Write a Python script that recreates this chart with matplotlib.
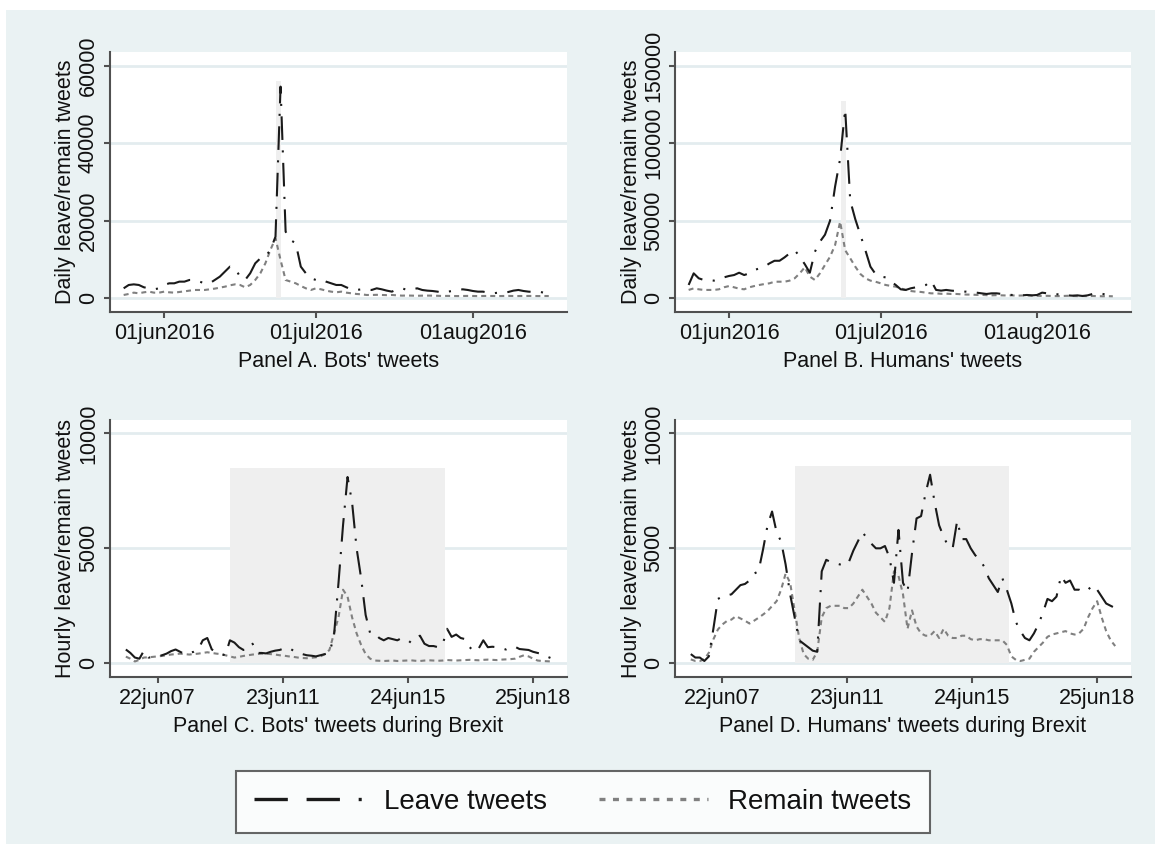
import numpy as np
import pandas as pd
import matplotlib
matplotlib.use("Agg")
import matplotlib.pyplot as plt
from matplotlib.lines import Line2D
from matplotlib.patches import Rectangle

plt.rcParams['font.family'] = ['Liberation Sans', 'DejaVu Sans']
plt.rcParams['lines.scale_dashes'] = False

# daily series, 24 May - 16 Aug 2016
days = pd.date_range('2016-05-24', '2016-08-16', freq='D')

bots_leave = [2580, 3440, 3600, 3440, 2840, 2580, 2320, 2580, 3440, 3870,
              3870, 4300, 4300, 4730, 4730, 4300, 3870, 3870, 4730, 5590,
              6880, 8170, 7740, 5590, 4730, 6450, 9030, 10300, 10750, 12470,
              15900, 54600, 17200, 15000, 14200, 8170, 6450, 5160, 4730, 4900,
              4300, 3870, 3440, 3440, 2840, 2320, 2150, 2320, 2320, 2150,
              2580, 2320, 1980, 1720, 2320, 2580, 2150, 2320, 2580, 2150,
              1980, 1890, 1720, 1460, 1720, 1890, 2150, 2320, 2150, 1890,
              1720, 1720, 1460, 1290, 1460, 1460, 1630, 1980, 2150, 1890,
              1720, 1630, 1720, 1460, 1290]
bots_remain = [860, 1120, 1460, 1290, 1550, 1720, 1460, 1460, 1720, 1550,
               1460, 1630, 1800, 1980, 2150, 2150, 2150, 2320, 2500, 2750,
               3000, 3350, 3600, 3440, 2840, 3440, 4730, 6450, 9030, 12500,
               15500, 9900, 4730, 4300, 3870, 3180, 2580, 2150, 2580, 2320,
               1980, 1720, 1550, 1720, 1460, 1290, 1120, 1030, 860, 860,
               900, 860, 820, 860, 770, 690, 720, 690, 650, 690,
               700, 690, 650, 600, 620, 600, 580, 600, 620, 600,
               580, 600, 610, 600, 580, 600, 620, 600, 590, 600,
               610, 600, 580, 600, 590]
hum_leave = [8600, 16100, 12900, 11800, 11800, 11400, 12200, 13500, 14400, 15000,
             16500, 15000, 16100, 18200, 19300, 20400, 22500, 24200, 24200, 26400,
             29000, 31100, 26800, 22000, 16500, 30000, 36500, 41000, 50000, 72000,
             90000, 122000, 63000, 51000, 41000, 31000, 20400, 15700, 14000, 13500,
             11000, 8600, 5800, 5400, 6450, 7100, 7500, 8600, 11400, 5400,
             4950, 5400, 4950, 4700, 4300, 4300, 4100, 3650, 3200, 2800,
             3200, 3200, 2800, 2600, 2150, 2150, 1900, 2150, 1900, 2150,
             3650, 3200, 2800, 2600, 2150, 1900, 1700, 1900, 1500, 1900,
             2800, 3200, 2800, 2150, 1700]
hum_remain = [5400, 6400, 5800, 5400, 5400, 5400, 5800, 7100, 7900, 7100,
              6200, 5800, 7100, 7900, 8600, 9200, 9660, 10700, 10700, 10700,
              11400, 12900, 16100, 20000, 14000, 11800, 16100, 21500, 26800, 34300,
              49400, 31000, 25800, 20400, 15700, 12900, 11400, 10700, 9700, 8600,
              8000, 7500, 6400, 5400, 4700, 4300, 4100, 3650, 3200, 3200,
              2900, 3000, 2800, 2800, 2600, 2400, 2400, 2200, 2200, 2000,
              1900, 2000, 1900, 1800, 1900, 1700, 1800, 1900, 1700, 1600,
              1500, 1600, 1500, 1400, 1500, 1600, 1500, 1400, 1500, 1400,
              1500, 1400, 1300, 1400, 1300]

# hourly series, 22 Jun 00h - 25 Jun 22h
hours = pd.date_range('2016-06-22 00:00', periods=95, freq='h')

bots_leave_h = [600, 450, 250, 200, 550, 250, 260, 300, 350, 420,
                530, 600, 500, 400, 450, 500, 600, 1000, 1100, 600,
                500, 400, 350, 1000, 900, 700, 580, 600, 850, 450,
                450, 430, 500, 550, 580, 650, 680, 550, 450, 400,
                350, 330, 300, 350, 400, 450, 1200, 3500, 6000, 8100,
                7000, 5000, 3700, 2100, 1300, 1300, 1100, 1000, 1100, 1050,
                1000, 1100, 1050, 900, 1100, 1200, 850, 750, 750, 700,
                800, 1500, 1150, 1250, 1100, 1050, 700, 500, 650, 1000,
                700, 720, 700, 650, 600, 700, 720, 620, 600, 580,
                500, 450, 400, 300, 220]
bots_remain_h = [290, 200, 80, 150, 250, 260, 280, 300, 320, 350,
                 380, 400, 420, 400, 380, 400, 420, 450, 480, 450,
                 420, 400, 350, 300, 250, 280, 320, 350, 380, 400,
                 420, 420, 400, 380, 350, 330, 300, 280, 250, 230,
                 220, 240, 260, 300, 400, 580, 1300, 2000, 3200, 2900,
                 2000, 1300, 800, 400, 200, 120, 110, 100, 110, 120,
                 100, 110, 120, 130, 110, 100, 120, 130, 120, 110,
                 120, 140, 130, 120, 130, 140, 150, 140, 130, 150,
                 160, 150, 140, 160, 170, 180, 200, 280, 350, 300,
                 200, 120, 100, 90, 80]
hum_leave_h = [400, 250, 250, 100, 300, 1500, 2800, 2900, 2950, 3000,
               3200, 3400, 3450, 3600, 3900, 4000, 4950, 6000, 6600, 5700,
               5300, 4300, 3000, 2000, 1000, 850, 700, 550, 500, 4000,
               4500, 4400, 4350, 4300, 4250, 4400, 4900, 5300, 5700, 5450,
               5200, 5000, 5000, 5100, 4600, 3500, 5800, 3500, 3100, 4800,
               6300, 6400, 7400, 8200, 7000, 6000, 5500, 5100, 5000, 6200,
               5400, 5400, 5000, 4700, 4500, 4200, 3700, 3400, 3100, 3700,
               3200, 2600, 1800, 1400, 1100, 1000, 1300, 1700, 2200, 2800,
               2700, 2900, 3800, 3500, 3600, 3200, 3200, 3100, 3200, 3400,
               3200, 2900, 2600, 2500, 2400]
hum_remain_h = [170, 100, 100, 170, 460, 1040, 1470, 1690, 1840, 1900,
                2050, 1950, 1850, 1730, 1850, 1980, 2120, 2270, 2490, 2700,
                3200, 3900, 3500, 2300, 1100, 400, 200, 150, 500, 2000,
                2400, 2500, 2500, 2500, 2400, 2400, 2600, 2900, 3200, 2900,
                2600, 2200, 2000, 1800, 2400, 4000, 3800, 3000, 1500, 2300,
                1600, 1300, 1200, 1200, 1400, 1100, 1500, 1200, 1100, 1100,
                1200, 1200, 1050, 1000, 1050, 1050, 1000, 1000, 1000, 1000,
                800, 300, 150, 100, 150, 200, 500, 700, 900, 1150,
                1250, 1300, 1350, 1400, 1300, 1250, 1300, 1500, 2000, 2400,
                2700, 2000, 1400, 1000, 750]

# shaded referendum windows
day_band = (pd.Timestamp('2016-06-23 02:00'), pd.Timestamp('2016-06-24 04:00'))
day_band_top = [56000, 127000]
hour_band = (pd.Timestamp('2016-06-22 23:00'), pd.Timestamp('2016-06-24 22:30'))
hour_band_top = [8500, 8600]

bg = '#eaf2f3'
grid_c = '#e3ecef'
leave_c = '#1a1a1a'
remain_c = '#808080'
band_c = '#efefef'
txt_c = '#111111'

leave_dash = (0, (17, 7.5, 1.5, 7.5))
remain_dash = (0, (3.6, 2.9))

fig = plt.figure(figsize=(11.61, 8.5), dpi=100, facecolor='white')
fig.patches.append(Rectangle((6 / 1161, 6 / 850), 1149 / 1161, 834 / 850,
                             transform=fig.transFigure, facecolor=bg,
                             edgecolor='none', zorder=-10))

W, H = 1161, 850


def make_ax(l, r, t, b):
    return fig.add_axes([l / W, 1 - b / H, (r - l) / W, (b - t) / H])


axA = make_ax(110, 567, 52, 312)
axB = make_ax(675, 1131, 52, 312)
axC = make_ax(110, 567, 420, 677)
axD = make_ax(675, 1131, 420, 677)

jun1 = pd.Timestamp('2016-06-01')
d_ticks = [jun1, pd.Timestamp('2016-07-01'), pd.Timestamp('2016-08-01')]
d_labels = ['01jun2016', '01jul2016', '01aug2016']
h0 = pd.Timestamp('2016-06-22 00:00')
h_ticks = [h0 + pd.Timedelta(hours=x) for x in [7, 34.67, 62.33, 90]]
h_labels = ['22jun07', '23jun11', '24jun15', '25jun18']


def style(ax, yticks, ylim, xlim, xt, xl, ylabel, xlabel):
    ax.set_facecolor('white')
    for s in ['top', 'right']:
        ax.spines[s].set_visible(False)
    for s in ['left', 'bottom']:
        ax.spines[s].set_color('#505050')
        ax.spines[s].set_linewidth(1.5)
    ax.set_ylim(ylim)
    ax.set_xlim(xlim)
    ax.set_yticks(yticks)
    ax.set_yticklabels([str(v) for v in yticks], rotation=90, va='center')
    ax.set_xticks(xt)
    ax.set_xticklabels(xl)
    ax.tick_params(axis='both', length=4, width=1.5, color='#505050',
                   labelsize=15.5, labelcolor=txt_c, pad=4)
    ax.grid(axis='y', color=grid_c, linewidth=2, zorder=0)
    ax.set_axisbelow(True)
    ax.set_ylabel(ylabel, fontsize=15.5, color=txt_c, labelpad=1)
    ax.set_xlabel(xlabel, fontsize=15.5, color=txt_c, labelpad=5)


def draw(ax, x, leave, remain, band, top):
    ax.fill_between(list(band), [0, 0], [top, top], color=band_c, lw=0, zorder=1)
    ax.plot(x, remain, color=remain_c, lw=1.5, linestyle=remain_dash, zorder=2)
    ax.plot(x, leave, color=leave_c, lw=1.5, linestyle=leave_dash, zorder=3)


dxlim = (jun1 - pd.Timedelta(days=10.7), jun1 + pd.Timedelta(days=79.6))
hxlim = (h0 - pd.Timedelta(hours=3.5), h0 + pd.Timedelta(hours=97.5))

draw(axA, days, bots_leave, bots_remain, day_band, day_band_top[0])
style(axA, [0, 20000, 40000, 60000], (-3530, 63530), dxlim, d_ticks, d_labels,
      'Daily leave/remain tweets', "Panel A. Bots' tweets")

draw(axB, days, hum_leave, hum_remain, day_band, day_band_top[1])
style(axB, [0, 50000, 100000, 150000], (-8830, 158800), dxlim, d_ticks, d_labels,
      'Daily leave/remain tweets', "Panel B. Humans' tweets")

draw(axC, hours, bots_leave_h, bots_remain_h, hour_band, hour_band_top[0])
style(axC, [0, 5000, 10000], (-596, 10580), hxlim, h_ticks, h_labels,
      'Hourly leave/remain tweets', "Panel C. Bots' tweets during Brexit")

draw(axD, hours, hum_leave_h, hum_remain_h, hour_band, hour_band_top[1])
style(axD, [0, 5000, 10000], (-596, 10580), hxlim, h_ticks, h_labels,
      'Hourly leave/remain tweets', "Panel D. Humans' tweets during Brexit")

handles = [Line2D([], [], color=leave_c, lw=2.4,
                  linestyle=(0, (24, 13.5, 24, 13.5, 2.2, 13.5))),
           Line2D([], [], color=remain_c, lw=2.4, linestyle=(0, (4.3, 5.4)))]
leg = fig.legend(handles, ['Leave tweets', 'Remain tweets'], ncol=2,
                 loc='center', bbox_to_anchor=(583 / W, 1 - 802 / H),
                 fontsize=20, handlelength=3.9, handletextpad=0.75,
                 columnspacing=1.9, borderpad=0.65, frameon=True, fancybox=False)
leg.get_frame().set_edgecolor('#404040')
leg.get_frame().set_linewidth(1.5)
leg.get_frame().set_facecolor('white')
for t in leg.get_texts():
    t.set_color(txt_c)

fig.savefig('out.png', dpi=100, facecolor=fig.get_facecolor())
